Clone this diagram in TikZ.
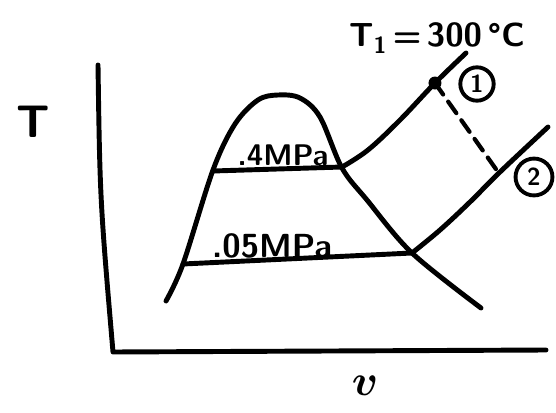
\documentclass[tikz,border=0pt]{standalone}
\usetikzlibrary{positioning}

\begin{document}
\begin{tikzpicture}[
        x=0.02cm, y=-0.02cm,
        every node/.style={font=\sffamily\bfseries},
        curve/.style={
          line width=2.8pt, line cap=round, line join=round,
        },
        isobar/.style={
          font=\sffamily\bfseries\fontsize{17}{19}\selectfont, inner sep=0pt,
        },
        state/.style={
          circle, draw, line width=2.2pt, inner sep=0pt,
          minimum size=19pt, font=\sffamily\bfseries\fontsize{14}{16}\selectfont,
        },
      ]
      \useasboundingbox (0,0) rectangle (556,413);

      % axes
      \coordinate (top) at (98,65);
      \coordinate (origin) at (113,352);
      \coordinate (vend) at (546,350);
      \draw[curve] (top) .. controls (100,200) .. (origin) -- (vend);
      \node[font=\sffamily\bfseries\fontsize{26}{28}\selectfont] (tlab) at (33,122) {T};
      \node[font=\boldmath\fontsize{38}{40}\selectfont] (vlab) at (365,386) {$v$};

      % saturation dome
      \draw[curve] plot[smooth, tension=0.55] coordinates {
        (166,301) (183,264) (213,170) (235,124) (258,100) (278,95)
        (300,98) (320,117) (342,168) (367,200) (412,253) (481,308)};

      % isobars
      \coordinate (a4) at (213,171);
      \coordinate (b4) at (342,167);
      \coordinate (a05) at (183,264);
      \coordinate (b05) at (412,253);
      \draw[curve] (a4) -- (b4);
      \draw[curve] (a05) -- (b05);
      \draw[curve] plot[smooth, tension=0.6] coordinates {
        (342,167) (368,150) (400,120) (435,83) (466,53)};
      \draw[curve] plot[smooth, tension=0.6] coordinates {
        (412,253) (440,230) (470,202) (500,172) (548,127)};

      \node[isobar] (p4) at (283,155) {.4MPa};
      \node[isobar, font=\sffamily\bfseries\fontsize{19}{21}\selectfont] (p05) at (272,246) {.05MPa};

      % states
      \coordinate (s1) at (435,83);
      \coordinate (s2) at (498,172);
      \fill (s1) circle (6.5);
      \draw[curve, line width=2.4pt, dash pattern=on 8pt off 5pt] (s1) -- (s2);
      \node[state] (n1) at (477,84) {1};
      \node[state, minimum size=21pt] (n2) at (534,177) {2};
      \node[font=\sffamily\bfseries\fontsize{19}{21}\selectfont] (tone) at (437,38)
        {T\textsubscript{1}\,=\,300\,\textdegree C};
    \end{tikzpicture}
\end{document}
